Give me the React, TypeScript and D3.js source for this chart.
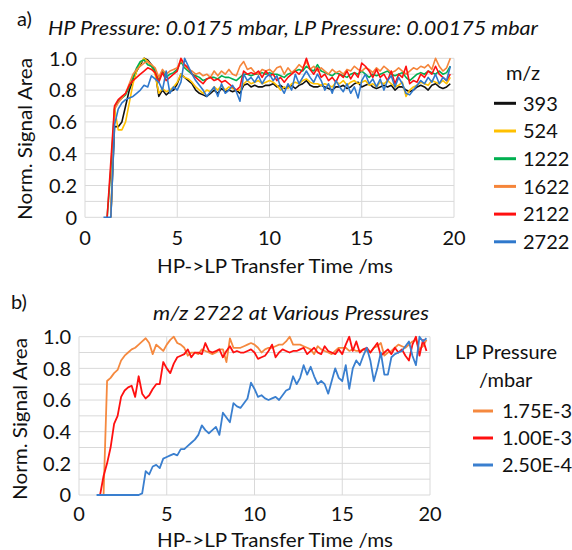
import React from "react";
import * as d3 from "d3";

// Shared time grid (ms)
const TIME_MS: number[] = d3.range(95).map((i) => Math.round((1 + i * 0.2) * 10) / 10);

// ---------- Panel a: m/z series ----------
const MZ_LABELS = ["393", "524", "1222", "1622", "2122", "2722"];
const MZ_COLORS = ["#111111", "#FFC000", "#00B050", "#F5853A", "#FF1010", "#2F78CC"];

const MZ_393 = [null, null, 0, 0.57, 0.57, 0.6, 0.7, 0.8, 0.86, 0.92, 0.96, 1.0, 0.99, 0.96, 0.92, 0.76, 0.8, 0.77, 0.79, 0.8,
  0.84, 0.9, 0.88, 0.86, 0.84, 0.8, 0.78, 0.77, 0.76, 0.78, 0.8, 0.78, 0.81, 0.79, 0.8, 0.79, 0.8, 0.78, 0.83, 0.84,
  0.82, 0.83, 0.82, 0.82, 0.83, 0.83, 0.84, 0.82, 0.83, 0.81, 0.82, 0.83, 0.81, 0.83, 0.84, 0.86, 0.83, 0.82, 0.82, 0.83,
  0.82, 0.81, 0.8, 0.82, 0.82, 0.83, 0.81, 0.82, 0.84, 0.85, 0.82, 0.83, 0.84, 0.82, 0.81, 0.82, 0.83, 0.82, 0.83, 0.8,
  0.82, 0.82, 0.8, 0.79, 0.8, 0.82, 0.83, 0.82, 0.8, 0.83, 0.84, 0.82, 0.81, 0.82, 0.84];
const MZ_524 = [null, null, 0, 0.69, 0.55, 0.55, 0.6, 0.72, 0.84, 0.92, 0.97, 1.0, 0.98, 0.95, 0.9, 0.78, 0.81, 0.79, 0.8, 0.82,
  0.85, 0.9, 0.88, 0.87, 0.85, 0.82, 0.8, 0.78, 0.8, 0.79, 0.82, 0.8, 0.83, 0.8, 0.82, 0.81, 0.8, 0.8, 0.84, 0.86,
  0.84, 0.85, 0.86, 0.84, 0.85, 0.86, 0.85, 0.83, 0.8, 0.82, 0.81, 0.84, 0.85, 0.84, 0.86, 0.87, 0.85, 0.84, 0.84, 0.83,
  0.84, 0.83, 0.82, 0.85, 0.84, 0.86, 0.83, 0.85, 0.86, 0.84, 0.85, 0.86, 0.83, 0.84, 0.82, 0.85, 0.84, 0.86, 0.84, 0.82,
  0.83, 0.85, 0.76, 0.8, 0.82, 0.83, 0.85, 0.84, 0.83, 0.86, 0.85, 0.84, 0.86, 0.84, 0.88];
const MZ_1222 = [null, 0, 0.3, 0.68, 0.73, 0.75, 0.77, 0.82, 0.88, 0.94, 0.98, 0.99, 0.96, 0.95, 0.92, 0.86, 0.92, 0.88, 0.9, 0.91,
  0.93, 0.98, 0.94, 0.92, 0.9, 0.89, 0.88, 0.86, 0.87, 0.88, 0.88, 0.87, 0.89, 0.88, 0.88, 0.87, 0.86, 0.88, 0.9, 0.9,
  0.89, 0.9, 0.9, 0.91, 0.9, 0.91, 0.9, 0.9, 0.89, 0.88, 0.9, 0.91, 0.92, 0.93, 0.92, 0.95, 0.93, 0.92, 0.96, 0.92,
  0.91, 0.9, 0.89, 0.91, 0.9, 0.89, 0.88, 0.9, 0.91, 0.9, 0.92, 0.9, 0.88, 0.9, 0.89, 0.9, 0.91, 0.92, 0.9, 0.89,
  0.9, 0.91, 0.88, 0.86, 0.88, 0.9, 0.91, 0.9, 0.92, 0.91, 0.9, 0.92, 0.9, 0.91, 0.95];
const MZ_1622 = [null, null, 0, 0.68, 0.72, 0.75, 0.78, 0.84, 0.9, 0.93, 0.95, 0.97, 0.98, 0.96, 0.94, 0.88, 0.93, 0.9, 0.92, 0.93,
  0.94, 0.99, 0.95, 0.93, 0.92, 0.9, 0.91, 0.89, 0.9, 0.88, 0.92, 0.89, 0.92, 0.9, 0.93, 0.9, 0.89, 0.95, 0.98, 0.93,
  0.94, 0.91, 0.9, 0.93, 0.92, 0.93, 0.91, 0.94, 0.95, 0.9, 0.94, 0.91, 0.93, 0.96, 0.94, 0.98, 0.93, 0.95, 0.92, 0.94,
  0.92, 0.9, 0.93, 0.91, 0.92, 0.9, 0.93, 0.92, 0.95, 0.93, 0.92, 0.94, 0.93, 0.91, 0.94, 0.92, 0.95, 0.93, 0.91, 0.92,
  0.94, 0.92, 0.9, 0.92, 0.94, 0.93, 0.95, 0.94, 0.96, 0.93, 1.0, 0.95, 0.92, 0.94, 1.0];
const MZ_2122 = [null, 0, 0.35, 0.7, 0.74, 0.76, 0.78, 0.83, 0.86, 0.88, 0.9, 0.92, 0.94, 0.93, 0.91, 0.85, 0.91, 0.86, 0.88, 0.9,
  0.92, 1.0, 0.96, 0.94, 0.9, 0.88, 0.86, 0.84, 0.87, 0.88, 0.86, 0.87, 0.85, 0.86, 0.84, 0.82, 0.8, 0.82, 0.92, 0.9,
  0.91, 0.9, 0.92, 0.88, 0.92, 0.89, 0.9, 0.86, 0.88, 0.85, 0.88, 0.9, 0.92, 0.9, 0.93, 1.0, 0.93, 0.9, 0.94, 0.88,
  0.9, 0.86, 0.88, 0.85, 0.9, 0.88, 0.92, 0.87, 0.91, 0.88, 0.97, 0.95, 0.92, 0.88, 0.93, 0.88, 0.9, 0.86, 0.92, 0.84,
  0.9, 0.88, 0.95, 0.84, 0.86, 0.85, 0.9, 0.88, 0.92, 0.9, 0.95, 0.9, 0.88, 0.86, 0.9];
const MZ_2722 = [0, 0, 0, 0.58, 0.68, 0.72, 0.74, 0.75, 0.76, 0.78, 0.8, 0.83, 0.82, 0.89, 0.87, 0.85, 0.8, 0.92, 0.78, 0.82,
  0.8, 0.85, 1.0, 0.95, 0.9, 0.86, 0.83, 0.8, 0.76, 0.79, 0.82, 0.76, 0.84, 0.78, 0.8, 0.83, 0.79, 0.73, 0.9, 0.86,
  0.88, 0.85, 0.89, 0.84, 0.88, 0.9, 0.86, 0.89, 0.82, 0.78, 0.84, 0.8, 0.9, 0.84, 0.88, 0.92, 0.88, 0.85, 0.9, 0.86,
  0.8, 0.84, 0.78, 0.86, 0.82, 0.79, 0.84, 0.78, 0.82, 0.75, 0.86, 0.9, 0.84, 0.87, 0.82, 0.87, 0.8, 0.86, 0.89, 0.82,
  0.88, 0.84, 0.78, 0.77, 0.8, 0.83, 0.86, 0.84, 0.88, 0.85, 0.9, 0.84, 0.88, 0.86, 0.95];
const MZ_SERIES = [MZ_393, MZ_524, MZ_1222, MZ_1622, MZ_2122, MZ_2722];

// ---------- Panel b: m/z 2722 at LP pressures ----------
const LP_LABELS = ["1.75E-3", "1.00E-3", "2.50E-4"];
const LP_COLORS = ["#F5893F", "#FF1010", "#3A7FCF"];

const LP_175E3 = [null, null, 0, 0.72, 0.74, 0.77, 0.79, 0.85, 0.88, 0.9, 0.92, 0.93, 0.95, 0.97, 0.99, 0.96, 0.89, 0.95, 0.93, 0.91,
  0.95, 0.98, 1.0, 0.96, 0.95, 0.93, 0.88, 0.9, 0.9, 0.89, 0.92, 0.91, 0.9, 0.89, 0.9, 0.92, 0.92, 0.84, 0.99, 0.93,
  0.93, 0.93, 0.94, 0.95, 0.96, 0.95, 0.93, 0.9, 0.92, 0.93, 0.93, 0.94, 0.95, 0.95, 0.97, 1.0, 0.95, 0.95, 0.95, 0.94,
  0.93, 0.92, 0.89, 0.94, 0.92, 0.91, 0.9, 0.89, 0.91, 0.93, 0.93, 0.93, 0.91, 0.92, 0.91, 0.91, 0.92, 0.91, 0.9, 0.93,
  0.94, 0.96, 0.88, 0.9, 0.91, 0.93, 0.95, 0.94, 0.93, 0.95, 0.97, 0.98, 0.92, 0.94, 0.98];
const LP_100E3 = [null, 0, 0.12, 0.2, 0.3, 0.45, 0.5, 0.62, 0.66, 0.68, 0.69, 0.62, 0.75, 0.64, 0.61, 0.63, 0.67, 0.7, 0.7, 0.84,
  0.8, 0.77, 0.83, 0.87, 0.88, 0.89, 0.92, 0.87, 0.9, 0.9, 0.89, 0.96, 0.91, 0.9, 0.91, 0.92, 0.87, 0.91, 0.94, 0.9,
  0.91, 0.9, 0.9, 0.91, 0.92, 0.9, 0.86, 0.87, 0.88, 0.91, 0.95, 0.87, 0.9, 0.92, 0.91, 0.9, 0.91, 0.91, 0.92, 0.93,
  0.89, 0.91, 0.93, 0.9, 0.89, 0.94, 0.91, 0.9, 0.89, 0.92, 0.89, 0.95, 1.0, 0.91, 0.97, 0.9, 0.92, 0.93, 0.9, 0.93,
  0.96, 0.88, 0.9, 0.92, 0.89, 0.93, 0.9, 0.92, 0.88, 0.85, 0.95, 1.0, 0.88, 0.98, 0.91];
const LP_250E4 = [0, 0, 0, 0, 0, 0, 0, 0, 0, 0, 0, 0, 0, 0.01, 0.15, 0.13, 0.18, 0.19, 0.17, 0.23,
  0.24, 0.25, 0.26, 0.25, 0.29, 0.29, 0.31, 0.33, 0.35, 0.38, 0.44, 0.41, 0.39, 0.41, 0.43, 0.38, 0.52, 0.49, 0.46, 0.58,
  0.56, 0.55, 0.58, 0.61, 0.71, 0.67, 0.62, 0.63, 0.61, 0.6, 0.61, 0.62, 0.6, 0.63, 0.66, 0.67, 0.75, 0.7, 0.74, 0.82,
  0.76, 0.81, 0.75, 0.7, 0.72, 0.7, 0.64, 0.72, 0.8, 0.74, 0.72, 0.82, 0.67, 0.8, 0.85, 0.82, 0.88, 0.93, 0.85, 0.72,
  0.8, 0.9, 0.76, 0.76, 0.87, 0.89, 0.9, 0.91, 0.94, 0.97, 0.88, 0.82, 1.0, 0.97, 0.99];
const LP_SERIES = [LP_175E3, LP_100E3, LP_250E4];

// ---------- Axes ----------
const X_TICKS = [0, 5, 10, 15, 20];
const Y_TICKS = [0, 0.2, 0.4, 0.6, 0.8, 1.0];
const Y_TICK_LABELS = ["0", "0.2", "0.4", "0.6", "0.8", "1.0"];
const Y_GRID = [0, 0.1, 0.2, 0.3, 0.4, 0.5, 0.6, 0.7, 0.8, 0.9, 1.0];

const FONT = "Lato, 'Open Sans', sans-serif";
const FS = 20;
const GRID = "#D9D9D9";
const INK = "#111";

type PanelProps = {
  x0: number; x1: number; yTop: number; yBot: number;
  series: (number | null)[][];
  colors: string[];
  strokeW: number;
  tickRight: number;
  xTickBase: number;
};

function Panel({ x0, x1, yTop, yBot, series, colors, strokeW, tickRight, xTickBase }: PanelProps) {
  const x = d3.scaleLinear().domain([0, 20]).range([x0, x1]);
  const y = d3.scaleLinear().domain([0, 1]).range([yBot, yTop]);
  const line = d3
    .line<number | null>()
    .defined((v) => v != null)
    .x((_, i) => x(TIME_MS[i]))
    .y((v) => y(v as number));
  return (
    <g>
      {Y_GRID.map((g) => (
        <line key={"h" + g} x1={x0} x2={x1} y1={y(g)} y2={y(g)} stroke={GRID} strokeWidth={1} />
      ))}
      {X_TICKS.map((t) => (
        <line key={"v" + t} x1={x(t)} x2={x(t)} y1={yTop} y2={yBot} stroke={GRID} strokeWidth={1} />
      ))}
      {Y_TICKS.map((t, i) => (
        <text key={"yt" + t} x={tickRight} y={y(t)} dy="0.36em" textAnchor="end" fontSize={FS} fontFamily={FONT} fill={INK}>
          {Y_TICK_LABELS[i]}
        </text>
      ))}
      {X_TICKS.map((t) => (
        <text key={"xt" + t} x={x(t)} y={xTickBase} textAnchor="middle" fontSize={FS} fontFamily={FONT} fill={INK}>
          {t}
        </text>
      ))}
      {series.map((s, i) => (
        <path key={"s" + i} d={line(s) || ""} fill="none" stroke={colors[i]} strokeWidth={strokeW} strokeLinejoin="round" />
      ))}
    </g>
  );
}

function Legend({ labels, colors, lineX0, lineX1, textX, ys }: { labels: string[]; colors: string[]; lineX0: number; lineX1: number; textX: number; ys: number[] }) {
  return (
    <g>
      {labels.map((l, i) => (
        <g key={l}>
          <line x1={lineX0} x2={lineX1} y1={ys[i]} y2={ys[i]} stroke={colors[i]} strokeWidth={3} />
          <text x={textX} y={ys[i]} dy="0.36em" fontSize={FS} fontFamily={FONT} fill={INK}>
            {l}
          </text>
        </g>
      ))}
    </g>
  );
}

export default function App() {
  const legA = MZ_LABELS.map((_, i) => 103.3 + i * 27.7);
  const legB = LP_LABELS.map((_, i) => 411 + i * 27);
  return (
    <svg width={572} height={550} style={{ position: "absolute", left: 0, top: 0, background: "#fff" }}>
      <rect width={572} height={550} fill="#fff" />
      {/* Panel a */}
      <text x={17} y={26} fontSize={FS} fontFamily={FONT} fill={INK}>a)</text>
      <text x={48} y={35} fontSize={FS} fontFamily={FONT} fontStyle="italic" fill={INK} textLength={490} lengthAdjust="spacingAndGlyphs">
        HP Pressure: 0.0175 mbar, LP Pressure: 0.00175 mbar
      </text>
      <Panel x0={85} x1={454} yTop={58.3} yBot={217.3} series={MZ_SERIES} colors={MZ_COLORS} strokeW={1.6} tickRight={77} xTickBase={245} />
      <text transform="translate(32,139) rotate(-90)" textAnchor="middle" fontSize={FS} fontFamily={FONT} fill={INK} textLength={162} lengthAdjust="spacingAndGlyphs">
        Norm. Signal Area
      </text>
      <text x={275} y={273} textAnchor="middle" fontSize={FS} fontFamily={FONT} fill={INK} textLength={236} lengthAdjust="spacingAndGlyphs">
        HP-&gt;LP Transfer Time /ms
      </text>
      <text x={523} y={73} dy="0.36em" textAnchor="middle" fontSize={FS} fontFamily={FONT} fill={INK}>m/z</text>
      <Legend labels={MZ_LABELS} colors={MZ_COLORS} lineX0={494} lineX1={516} textX={523} ys={legA} />

      {/* Panel b */}
      <text x={11} y={309} fontSize={FS} fontFamily={FONT} fill={INK}>b)</text>
      <text x={153} y={320} fontSize={FS} fontFamily={FONT} fontStyle="italic" fill={INK} textLength={276} lengthAdjust="spacingAndGlyphs">
        m/z 2722 at Various Pressures
      </text>
      <Panel x0={79} x1={430} yTop={336.7} yBot={495} series={LP_SERIES} colors={LP_COLORS} strokeW={1.8} tickRight={71} xTickBase={521} />
      <text transform="translate(27,419) rotate(-90)" textAnchor="middle" fontSize={FS} fontFamily={FONT} fill={INK} textLength={162} lengthAdjust="spacingAndGlyphs">
        Norm. Signal Area
      </text>
      <text x={275} y={547} textAnchor="middle" fontSize={FS} fontFamily={FONT} fill={INK} textLength={236} lengthAdjust="spacingAndGlyphs">
        HP-&gt;LP Transfer Time /ms
      </text>
      <text x={455} y={352} dy="0.36em" fontSize={FS} fontFamily={FONT} fill={INK}>LP Pressure</text>
      <text x={479} y={380} dy="0.36em" fontSize={FS} fontFamily={FONT} fill={INK}>/mbar</text>
      <Legend labels={LP_LABELS} colors={LP_COLORS} lineX0={473} lineX1={493} textX={502} ys={legB} />
    </svg>
  );
}
